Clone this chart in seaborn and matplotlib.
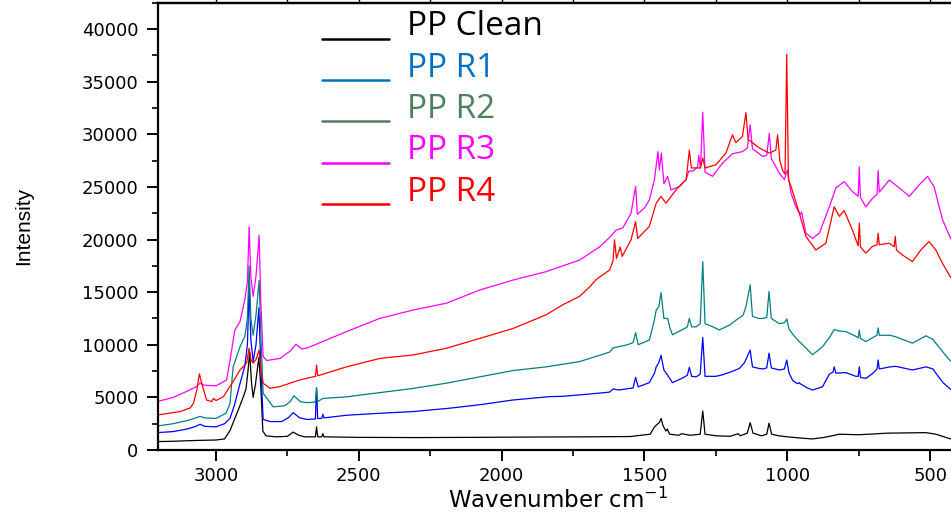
import numpy as np
import pandas as pd
import matplotlib
matplotlib.use("Agg")
import matplotlib.pyplot as plt
import seaborn as sns
from matplotlib.lines import Line2D
from matplotlib.legend_handler import HandlerLine2D
from matplotlib.ticker import MultipleLocator

# (wavenumber cm-1, intensity)
pp_clean = [
    (3205, 800), (3150, 830), (3100, 880), (3050, 920), (3000, 950), (2970, 1050),
    (2950, 1900), (2940, 2600), (2925, 3600), (2905, 5000), (2895, 5800), (2888, 7500),
    (2882, 9300), (2876, 6500), (2870, 5000), (2862, 6200), (2850, 8800), (2843, 6000),
    (2836, 1800), (2825, 1350), (2790, 1250), (2750, 1300), (2730, 1700), (2710, 1400),
    (2690, 1250), (2652, 1250), (2648, 2200), (2644, 1250), (2630, 1250), (2626, 1550),
    (2622, 1250), (2500, 1200), (2300, 1180), (2100, 1200), (1900, 1230), (1700, 1250),
    (1550, 1280), (1480, 1500), (1465, 2200), (1455, 2450), (1448, 2600), (1442, 3000),
    (1435, 2300), (1425, 1800), (1420, 2000), (1412, 1500), (1380, 1400), (1370, 1550),
    (1340, 1400), (1305, 1500), (1296, 3700), (1288, 1500), (1250, 1350), (1200, 1300),
    (1172, 1550), (1165, 1350), (1140, 1600), (1130, 2600), (1120, 1600), (1090, 1350),
    (1072, 1500), (1064, 2550), (1055, 1500), (1030, 1350), (1000, 1250), (960, 1150),
    (913, 1050), (870, 1200), (818, 1500), (750, 1450), (650, 1600), (515, 1650),
    (480, 1500), (434, 1100), (420, 1000),
]

pp_r1 = [
    (3205, 1650), (3150, 1750), (3100, 2000), (3070, 2250), (3056, 2450), (3040, 2250),
    (3000, 2200), (2970, 2500), (2951, 3000), (2935, 4300), (2916, 6300), (2899, 8000),
    (2890, 10000), (2884, 15500), (2878, 10500), (2870, 8400), (2860, 10000), (2850, 13500),
    (2843, 8000), (2835, 2900), (2810, 2700), (2770, 2700), (2745, 3100), (2730, 3550),
    (2707, 3050), (2680, 2900), (2652, 2950), (2648, 5900), (2644, 3000), (2630, 3000),
    (2626, 3400), (2622, 3050), (2543, 3300), (2420, 3500), (2311, 3650), (2190, 3950),
    (2077, 4300), (1961, 4750), (1832, 5070), (1787, 5100), (1700, 5300), (1622, 5500),
    (1610, 5800), (1590, 5700), (1540, 5900), (1531, 6900), (1522, 6000), (1483, 6400),
    (1465, 7300), (1459, 7900), (1450, 8300), (1442, 9000), (1432, 7600), (1419, 7100),
    (1402, 6400), (1366, 6850), (1350, 7100), (1343, 7850), (1335, 7000), (1319, 6950),
    (1305, 7200), (1296, 10700), (1288, 7000), (1250, 7000), (1226, 7150), (1190, 7500),
    (1168, 7750), (1150, 8300), (1145, 8600), (1130, 9500), (1122, 7900), (1100, 7750),
    (1086, 7700), (1072, 7800), (1064, 9200), (1056, 7800), (1028, 7600), (1010, 7700),
    (1002, 8550), (994, 7300), (981, 6600), (965, 6300), (958, 6400), (955, 6300),
    (930, 5900), (912, 5700), (877, 6000), (853, 7200), (840, 7400), (836, 7900),
    (830, 7300), (795, 7350), (760, 7000), (752, 7000), (748, 7900), (744, 6900),
    (725, 6800), (700, 7300), (686, 7700), (682, 8550), (678, 7700), (640, 7900),
    (620, 7950), (562, 7600), (515, 7900), (490, 7700), (480, 7300), (455, 6400),
    (434, 5900), (420, 5600),
]

pp_r2 = [
    (3205, 2280), (3150, 2500), (3100, 2800), (3070, 3050), (3056, 3200), (3040, 3050),
    (3000, 3000), (2965, 3500), (2951, 4400), (2940, 7900), (2916, 9800), (2899, 10800),
    (2890, 12500), (2884, 17500), (2878, 12500), (2870, 10900), (2860, 12800), (2849, 16100),
    (2843, 11000), (2835, 5400), (2800, 4100), (2760, 4200), (2740, 4600), (2727, 5150),
    (2705, 4600), (2683, 4500), (2652, 4550), (2648, 5900), (2644, 4600), (2626, 4900),
    (2543, 5050), (2427, 5450), (2310, 5850), (2193, 6350), (2077, 6950), (1960, 7550),
    (1844, 7900), (1727, 8400), (1622, 9300), (1610, 9700), (1560, 10000), (1540, 10200),
    (1531, 11150), (1522, 10000), (1483, 10450), (1465, 12400), (1459, 13300), (1450, 13600),
    (1442, 14950), (1432, 12500), (1419, 12500), (1410, 11500), (1402, 10950), (1366, 11450),
    (1350, 11700), (1343, 12500), (1335, 11700), (1319, 11700), (1305, 12000), (1296, 17900),
    (1288, 12000), (1260, 11700), (1238, 11400), (1200, 11900), (1179, 12350), (1155, 12800),
    (1145, 13600), (1130, 15700), (1122, 12700), (1100, 12500), (1086, 12500), (1072, 12600),
    (1064, 15050), (1056, 12500), (1028, 12000), (1010, 12100), (1002, 12450), (994, 11500),
    (981, 11000), (958, 10300), (935, 9700), (912, 9050), (877, 9800), (850, 10800),
    (836, 11450), (818, 11300), (795, 11250), (760, 10800), (752, 10650), (748, 11400),
    (744, 10600), (725, 10300), (700, 10700), (686, 10900), (682, 11600), (678, 10900),
    (640, 10900), (620, 10750), (562, 10150), (515, 10850), (490, 10500), (480, 10150),
    (455, 9300), (434, 8600), (420, 8300),
]

pp_r3 = [
    (3205, 4600), (3150, 5000), (3100, 5600), (3070, 6000), (3056, 6350), (3040, 6150),
    (3000, 6100), (2963, 6650), (2951, 8500), (2934, 11400), (2916, 12200), (2899, 14300),
    (2890, 16000), (2884, 21200), (2878, 16500), (2870, 14600), (2860, 16500), (2849, 20400),
    (2843, 14000), (2835, 8900), (2823, 8500), (2776, 8700), (2740, 9400), (2720, 10050),
    (2700, 9600), (2680, 9700), (2543, 11250), (2427, 12500), (2310, 13300), (2193, 13950),
    (2077, 15200), (1960, 16150), (1844, 16950), (1727, 18050), (1657, 19300), (1622, 20200),
    (1599, 20900), (1576, 21100), (1547, 22500), (1531, 25050), (1525, 22400), (1500, 23000),
    (1483, 23750), (1465, 25700), (1453, 28350), (1448, 26600), (1441, 28200), (1432, 25300),
    (1419, 26000), (1407, 24700), (1378, 25050), (1354, 25700), (1345, 26500), (1330, 26500),
    (1314, 26900), (1310, 28000), (1304, 26800), (1296, 32100), (1288, 26400), (1262, 26000),
    (1227, 27250), (1192, 28150), (1157, 28350), (1140, 28700), (1130, 30900), (1122, 28600),
    (1116, 28500), (1086, 27900), (1072, 28000), (1063, 30100), (1056, 27700), (1028, 26300),
    (1010, 25700), (1000, 26600), (987, 24400), (970, 23100), (955, 22400), (950, 22600),
    (935, 20600), (912, 20100), (888, 20600), (853, 23100), (830, 24900), (801, 25500),
    (772, 24550), (752, 24100), (748, 26900), (744, 24000), (725, 23100), (702, 23900),
    (686, 24300), (682, 26550), (678, 24500), (643, 25650), (608, 24900), (573, 24100),
    (538, 25200), (509, 26000), (486, 25000), (457, 21900), (430, 20200), (420, 19700),
]

pp_r4 = [
    (3205, 3330), (3126, 3650), (3090, 4000), (3079, 4440), (3067, 5700), (3058, 7230),
    (3050, 6340), (3033, 4750), (3015, 4600), (3009, 4900), (3000, 4700), (2974, 5070),
    (2940, 6500), (2916, 7600), (2893, 8250), (2884, 9670), (2878, 8600), (2870, 8250),
    (2860, 8600), (2849, 9500), (2843, 7500), (2835, 6340), (2811, 5870), (2776, 6020),
    (2730, 6450), (2706, 6660), (2652, 7000), (2648, 8080), (2644, 7050), (2543, 7900),
    (2427, 8700), (2310, 9030), (2193, 9670), (2077, 10600), (1960, 11550), (1844, 12850),
    (1786, 13800), (1727, 14600), (1692, 15500), (1669, 16200), (1622, 17100), (1610, 18000),
    (1605, 19970), (1598, 18200), (1585, 19280), (1578, 18400), (1547, 19970), (1531, 21700),
    (1524, 20100), (1483, 21250), (1459, 23450), (1442, 24100), (1425, 23450), (1390, 24700),
    (1354, 25700), (1343, 28500), (1336, 26800), (1304, 26800), (1296, 27750), (1288, 26800),
    (1250, 27100), (1215, 28200), (1192, 29950), (1180, 29200), (1157, 29800), (1145, 32050),
    (1137, 29500), (1098, 28700), (1063, 28200), (1040, 28500), (1034, 29950), (1026, 27500),
    (1017, 26600), (1008, 26200), (1002, 37600), (996, 25700), (987, 25050), (958, 22500),
    (935, 20300), (900, 19000), (865, 19650), (836, 23100), (818, 22200), (801, 22750),
    (772, 20900), (752, 19400), (748, 21550), (744, 19300), (725, 18700), (702, 19350),
    (686, 19500), (682, 20600), (678, 19500), (643, 19650), (626, 19300), (622, 20300),
    (618, 19000), (598, 18550), (562, 17900), (533, 19000), (504, 19800), (480, 19000),
    (457, 17750), (430, 16480), (420, 16200),
]

samples = ["PP Clean", "PP R1", "PP R2", "PP R3", "PP R4"]
line_colors = ["#000000", "#0000FF", "#008080", "#FF00FF", "#FF0000"]
legend_colors = ["#000000", "#0070C0", "#4F7F5F", "#FF00FF", "#FF0000"]

rows = []
for name, pts in zip(samples, [pp_clean, pp_r1, pp_r2, pp_r3, pp_r4]):
    for w, inten in pts:
        rows.append((name, w, inten))
df = pd.DataFrame(rows, columns=["Sample", "Wavenumber", "Intensity"])

sns.set_style("ticks")
plt.rcParams["font.family"] = ["DejaVu Sans"]
plt.rcParams.update({
    "axes.edgecolor": "black", "xtick.color": "black", "ytick.color": "black",
    "text.color": "black", "axes.labelcolor": "black",
})

fig = plt.figure(figsize=(9.51, 5.23), dpi=100)
ax = fig.add_axes([158 / 951, 73 / 523, 1 - 158 / 951, 447.3 / 523])

sns.lineplot(data=df, x="Wavenumber", y="Intensity", hue="Sample",
             hue_order=samples, palette=line_colors, estimator=None,
             sort=True, linewidth=0.9, legend=False, ax=ax)

ax.set_xlim(3203, 427)
ax.set_ylim(0, 42500)
ax.xaxis.set_major_locator(MultipleLocator(500))
ax.xaxis.set_minor_locator(MultipleLocator(250))
ax.yaxis.set_major_locator(MultipleLocator(5000))
ax.yaxis.set_minor_locator(MultipleLocator(2500))
ax.tick_params(which="major", direction="out", length=8, width=1.4, labelsize=13)
ax.tick_params(which="minor", direction="out", length=4, width=1.2)
ax.tick_params(axis="y", pad=6)
ax.tick_params(axis="x", pad=4)

for s in ["left", "bottom", "top"]:
    ax.spines[s].set_linewidth(1.6)
ax.spines["right"].set_visible(False)

top = ax.secondary_xaxis("top")
top.xaxis.set_major_locator(MultipleLocator(250))
top.tick_params(direction="out", length=3, width=1.0, labeltop=False)
top.spines["top"].set_linewidth(1.6)

ax.set_ylabel("Intensity", fontsize=15, family="Liberation Sans")
ax.yaxis.set_label_coords(-0.157, 0.5)
ax.set_xlabel("Wavenumber cm$^{-1}$", fontsize=16.5)
ax.xaxis.set_label_coords(0.505, -0.084)


class LowLine(HandlerLine2D):
    def create_artists(self, legend, orig_handle, xdescent, ydescent,
                       width, height, fontsize, trans):
        arts = super().create_artists(legend, orig_handle, xdescent, ydescent,
                                      width, height, fontsize, trans)
        for a in arts:
            a.set_ydata(np.asarray(a.get_ydata()) - 0.45 * fontsize)
        return arts


handles = [Line2D([], [], color=c, lw=1.8) for c in legend_colors]
leg = ax.legend(handles, samples, loc="upper left", bbox_to_anchor=(0.207, 0.983),
                frameon=False, handlelength=2.0, handletextpad=0.55,
                labelspacing=0.25, borderpad=0, borderaxespad=0,
                labelcolor=legend_colors, prop={"family": "Open Sans", "size": 24},
                handler_map={Line2D: LowLine()})

fig.savefig("out.png", dpi=100)
plt.close(fig)
